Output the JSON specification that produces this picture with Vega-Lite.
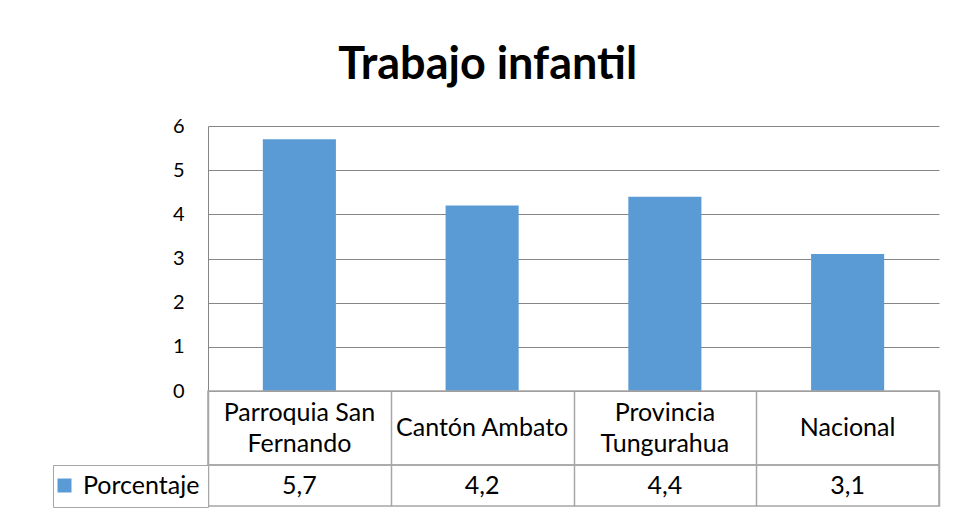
{
  "$schema": "https://vega.github.io/schema/vega-lite/v6.json",
  "background": "white",
  "padding": {"left": 51, "top": 43, "right": 14, "bottom": 5},
  "title": {"text": "Trabajo infantil", "font": "Lato", "fontSize": 45, "fontWeight": "bold", "color": "black", "anchor": "middle", "offset": 28, "dx": -8},
  "datasets": {
    "d": [
      {"categoria": "Parroquia San Fernando", "etiqueta": "Parroquia San\nFernando", "serie": "Porcentaje", "valor": 5.7},
      {"categoria": "Cantón Ambato", "etiqueta": "Cantón Ambato", "serie": "Porcentaje", "valor": 4.2},
      {"categoria": "Provincia Tungurahua", "etiqueta": "Provincia\nTungurahua", "serie": "Porcentaje", "valor": 4.4},
      {"categoria": "Nacional", "etiqueta": "Nacional", "serie": "Porcentaje", "valor": 3.1}
    ]
  },
  "spacing": 0,
  "bounds": "flush",
  "resolve": {"scale": {"color": "independent"}, "legend": {"color": "independent"}},
  "vconcat": [
    {
      "width": 731,
      "height": 265,
      "data": {"name": "d"},
      "view": {"stroke": null},
      "mark": {"type": "bar", "color": "#5B9BD5", "width": {"band": 0.4}},
      "encoding": {
        "x": {"field": "categoria", "type": "nominal", "sort": null, "scale": {"paddingInner": 0, "paddingOuter": 0}, "axis": null},
        "y": {"field": "valor", "type": "quantitative", "scale": {"domain": [0, 6], "nice": false},
          "axis": {"title": null, "values": [0, 1, 2, 3, 4, 5, 6], "ticks": false, "labelPadding": 24, "labelFont": "Lato", "labelFontSize": 20, "labelColor": "black", "domainColor": "#868686", "gridColor": "#868686", "gridOpacity": 1}}
      }
    },
    {
      "width": 731,
      "height": 74,
      "data": {"name": "d"},
      "view": {"stroke": "#a6a6a6", "strokeWidth": 1.5},
      "mark": {"type": "text", "font": "Lato", "fontSize": 25, "color": "black", "lineBreak": "\n", "lineHeight": 31, "baseline": "middle",
        "dy": {"expr": "indexof(datum.etiqueta, '\\n') >= 0 ? -15.5 : 0"}},
      "encoding": {
        "x": {"field": "categoria", "type": "nominal", "sort": null, "scale": {"paddingInner": 0, "paddingOuter": 0},
          "axis": {"title": null, "labels": false, "ticks": false, "domain": false, "grid": true, "tickBand": "extent", "gridColor": "#a6a6a6", "gridWidth": 1.5, "gridOpacity": 1}},
        "text": {"field": "etiqueta"}
      }
    },
    {
      "width": 731,
      "height": 41,
      "data": {"name": "d"},
      "view": {"stroke": "#a6a6a6", "strokeWidth": 1.5},
      "encoding": {
        "x": {"field": "categoria", "type": "nominal", "sort": null, "scale": {"paddingInner": 0, "paddingOuter": 0},
          "axis": {"title": null, "labels": false, "ticks": false, "domain": false, "grid": true, "tickBand": "extent", "gridColor": "#a6a6a6", "gridWidth": 1.5, "gridOpacity": 1}}
      },
      "layer": [
        {
          "mark": {"type": "text", "font": "Lato", "fontSize": 25, "color": "black", "baseline": "middle"},
          "encoding": {"text": {"field": "valor", "type": "quantitative", "format": ".1f"}}
        },
        {
          "mark": {"type": "square", "opacity": 0},
          "encoding": {
            "color": {"field": "serie", "type": "nominal", "scale": {"range": ["#5B9BD5"]},
              "legend": {"orient": "left", "offset": 0, "title": null, "symbolType": "square", "symbolSize": 196, "symbolOpacity": 1, "symbolStrokeWidth": 0, "symbolOffset": -9, "labelFont": "Lato", "labelFontSize": 25, "labelColor": "black", "labelOffset": 6, "strokeColor": "#a6a6a6", "padding": 8, "fillColor": "white"}}
          }
        }
      ]
    }
  ],
  "config": {
    "locale": {"number": {"decimal": ",", "thousands": ".", "grouping": [3], "currency": ["$", ""]}}
  }
}
